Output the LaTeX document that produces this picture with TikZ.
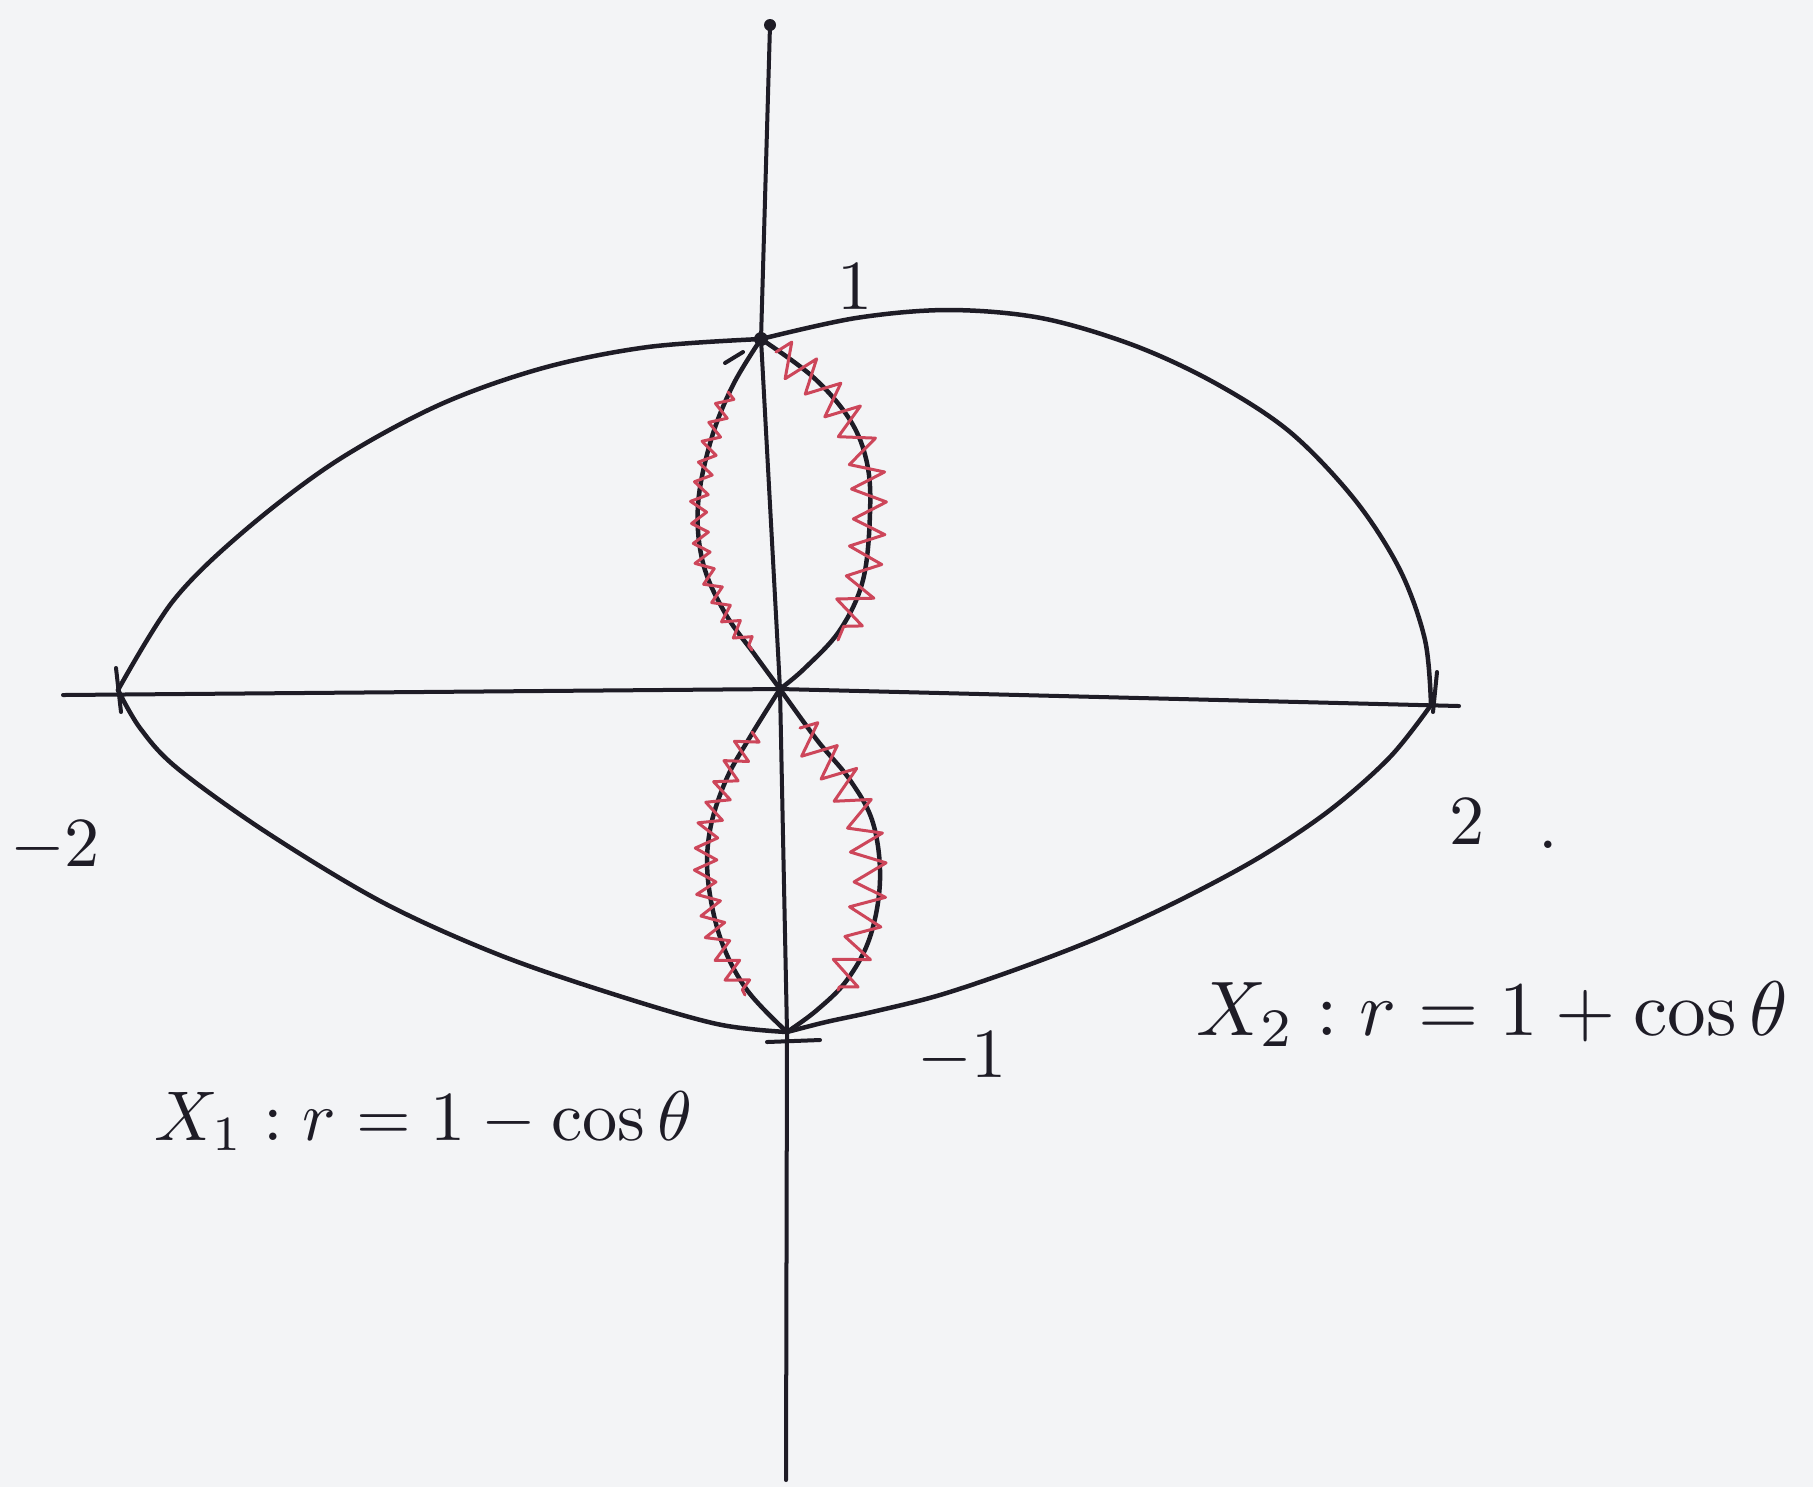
\documentclass[tikz,border=0pt]{standalone}
\usetikzlibrary{decorations.pathmorphing}
\definecolor{ink}{RGB}{30,28,38}
\definecolor{redink}{RGB}{205,70,90}
\definecolor{paper}{RGB}{243,244,246}
\begin{document}
\begin{tikzpicture}[x=0.01cm,y=-0.01cm,line cap=round,line join=round,
  curve/.style={draw=ink,line width=0.045cm},
  axisline/.style={draw=ink,line width=0.04cm},
  hatch/.style={draw=redink,line width=0.03cm,decorate},
  lbl/.style={text=ink,inner sep=0pt,scale=2}]
\fill[paper] (0,0) rectangle (1813,1487);
\useasboundingbox (0,0) rectangle (1813,1487);

% key points
\coordinate (O) at (780,689);
\coordinate (T) at (761,339);
\coordinate (B) at (787,1032);
\coordinate (L) at (118,690);
\coordinate (R) at (1431,705);
\coordinate (ytop) at (770,25);
\coordinate (ybot) at (786,1480);
\coordinate (xl) at (63,695);
\coordinate (xr) at (1459,706);

% axes
\draw[axisline] (ytop) -- (T) -- (O) -- (B) -- (ybot);
\fill[ink] (ytop) circle[radius=0.06cm];
\draw[axisline] (xl) -- (O) -- (xr);

% ticks
\draw[axisline] (116,668) -- (121,712);
\draw[axisline] (1437,672) -- (1433,712);
\draw[axisline] (767,1042) -- (820,1040);
\draw[axisline] (725,363) -- (743,352);

% outer curve
\draw[curve] plot[smooth,tension=0.55] coordinates {(L) (173,601) (243,532) (335,462) (439,405) (543,368) (648,347) (T)};
\draw[curve] plot[smooth,tension=0.55] coordinates {(T) (856,318) (948,310) (1041,318) (1133,345) (1215,383) (1290,432) (1355,500) (1400,570) (1425,640) (R)};
\draw[curve] plot[smooth,tension=0.55] coordinates {(R) (1390,757) (1330,810) (1260,857) (1180,900) (1100,937) (1020,968) (940,995) (872,1012) (826,1022) (B)};
\draw[curve] plot[smooth,tension=0.55] coordinates {(L) (140,728) (177,768) (266,832) (382,902) (497,954) (613,994) (717,1024) (B)};

% lenses
\draw[curve] plot[smooth,tension=0.6] coordinates {(T) (733,385) (711,440) (698,505) (703,563) (725,613) (755,655) (O)};
\draw[curve] plot[smooth,tension=0.6] coordinates {(T) (813,377) (850,420) (867,463) (870,513) (863,580) (840,630) (805,668) (O)};
\draw[curve] plot[smooth,tension=0.6] coordinates {(O) (750,737) (726,780) (710,830) (708,880) (721,940) (747,990) (B)};
\draw[curve] plot[smooth,tension=0.6] coordinates {(O) (817,740) (850,780) (873,823) (880,880) (870,937) (847,980) (817,1010) (B)};
\fill[ink] (T) circle[radius=0.07cm];

% red zigzags
\draw[hatch,decoration={zigzag,segment length=0.2cm,amplitude=0.08cm}]
  (728,392) -- (711,440) -- (698,505) -- (703,563) -- (725,613) -- (752,650);
\draw[hatch,decoration={zigzag,segment length=0.3cm,amplitude=0.17cm}]
  (776,352) -- (813,377) -- (850,420) -- (867,463) -- (870,513) -- (863,580) -- (838,640);
\draw[hatch,decoration={zigzag,segment length=0.22cm,amplitude=0.11cm}]
  (752,732) -- (726,780) -- (707,830) -- (705,880) -- (717,940) -- (745,995);
\draw[hatch,decoration={zigzag,segment length=0.3cm,amplitude=0.17cm}]
  (800,728) -- (840,775) -- (864,823) -- (871,880) -- (862,937) -- (838,990);

% labels
\node[lbl] (one) at (855,287) {$1$};
\node[lbl] (mone) at (962,1058) {$-1$};
\node[lbl] (mtwo) at (55,847) {$-2$};
\node[lbl] (two) at (1467,822) {$2$};
\node[lbl] (dot) at (1548,845) {.};
\node[lbl,anchor=base west] (xone) at (153,1140) {$X_1 : r = 1 - \cos\theta$};
\node[lbl,anchor=base west,scale=1.1] (xtwo) at (1195,1035) {$X_2 : r = 1 + \cos\theta$};
\end{tikzpicture}
\end{document}
